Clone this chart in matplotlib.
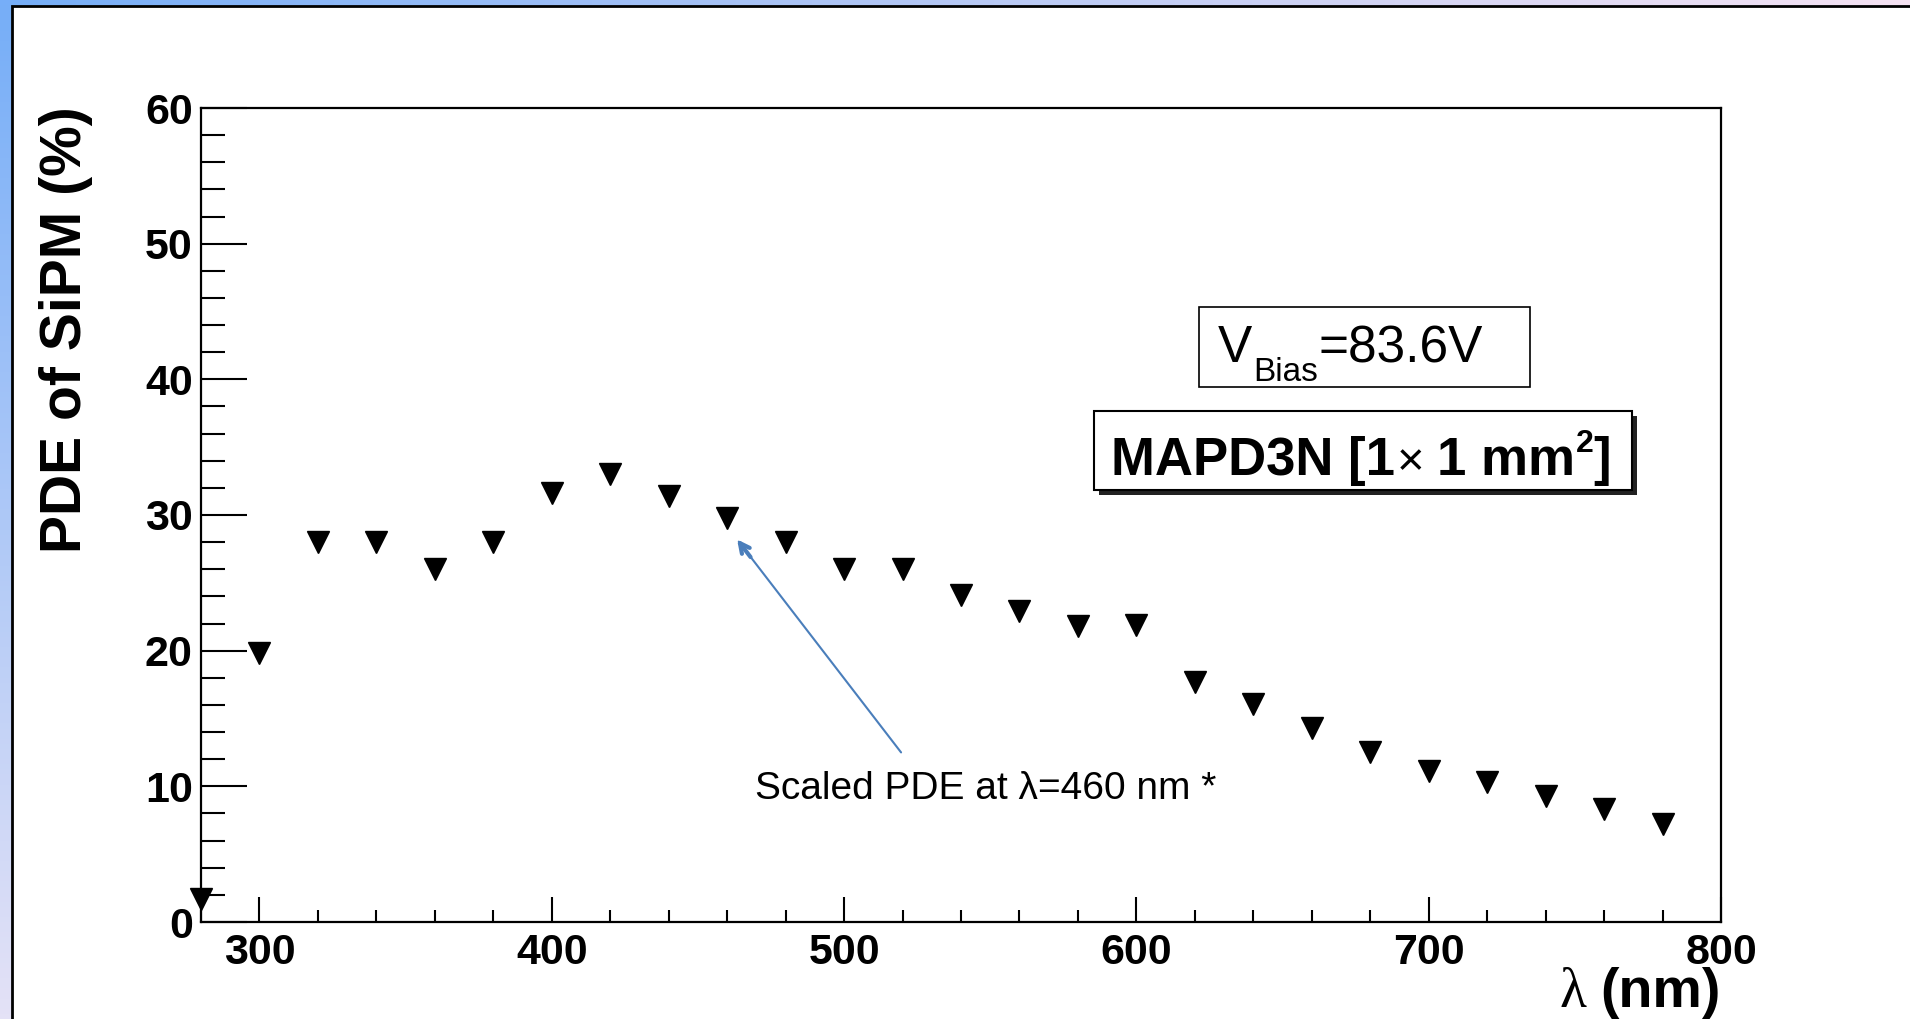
import numpy as np
import matplotlib
matplotlib.use('Agg')
import matplotlib.pyplot as plt
from matplotlib.patches import Rectangle
from matplotlib.ticker import MultipleLocator

plt.rcParams['font.family'] = ['Liberation Sans', 'DejaVu Sans']
plt.rcParams['mathtext.default'] = 'regular'

# wavelength (nm) and PDE (%)
wavelength = [280, 300, 320, 340, 360, 380, 400, 420, 440, 460, 480, 500, 520,
              540, 560, 580, 600, 620, 640, 660, 680, 700, 720, 740, 760, 780]
pde = [1.7, 19.8, 28.0, 28.0, 26.0, 28.0, 31.6, 33.0, 31.4, 29.8, 28.0, 26.0, 26.0,
       24.1, 22.9, 21.8, 21.9, 17.7, 16.1, 14.3, 12.5, 11.1, 10.3, 9.3, 8.3, 7.2]

x_ticks = [300, 400, 500, 600, 700, 800]
y_ticks = [0, 10, 20, 30, 40, 50, 60]

W, H = 1910, 1019
fig = plt.figure(figsize=(W / 100, H / 100), dpi=100)


def fx(px):
    return px / W


def fy(py):
    return 1 - py / H


# slide background (blue gradient border)
bg = fig.add_axes([0, 0, 1, 1], zorder=-10)
gx = np.linspace(0, 1, 200)[None, :, None]
gy = np.linspace(0, 1, 200)[:, None, None]
tl = np.array([118, 174, 248]) / 255
tr = np.array([245, 226, 242]) / 255
bl = np.array([228, 226, 246]) / 255
br = np.array([250, 245, 250]) / 255
grad = (tl * (1 - gx) * (1 - gy) + tr * gx * (1 - gy)
        + bl * (1 - gx) * gy + br * gx * gy)
bg.imshow(grad, aspect='auto', extent=[0, 1, 0, 1])
bg.axis('off')

# white canvas with black frame
fig.patches.append(Rectangle((fx(12), -0.05), 1.1, fy(6) + 0.05,
                             transform=fig.transFigure, facecolor='white',
                             edgecolor='black', linewidth=2.0, zorder=-5))

ax = fig.add_axes([fx(201), fy(922), fx(1721) - fx(201), fy(108) - fy(922)])
ax.set_facecolor('white')
ax.plot(wavelength, pde, linestyle='none', marker='v', color='black',
        markersize=16, clip_on=False)

ax.set_xlim(280, 800)
ax.set_ylim(0, 60)
ax.set_xticks(x_ticks)
ax.set_yticks(y_ticks)
ax.xaxis.set_minor_locator(MultipleLocator(20))
ax.yaxis.set_minor_locator(MultipleLocator(2))
ax.tick_params(axis='both', which='both', direction='in', width=1.5,
               colors='black', labelsize=31)
ax.tick_params(axis='x', which='major', length=18, pad=8)
ax.tick_params(axis='x', which='minor', length=9)
ax.tick_params(axis='y', which='major', length=33, pad=6)
ax.tick_params(axis='y', which='minor', length=17)
for lab in ax.get_xticklabels() + ax.get_yticklabels():
    lab.set_fontweight('bold')
for sp in ax.spines.values():
    sp.set_linewidth(1.6)

fig.text(fx(66), fy(330), 'PDE of SiPM (%)', rotation=90, fontsize=41,
         fontweight='bold', ha='center', va='center')

# text boxes
fig.patches.append(Rectangle((fx(1199), fy(387)), fx(1530) - fx(1199),
                             fy(307) - fy(387), transform=fig.transFigure,
                             facecolor='white', edgecolor='black',
                             linewidth=1.2, zorder=5))
fig.patches.append(Rectangle((fx(1099), fy(495)), fx(1637) - fx(1099),
                             fy(416) - fy(495), transform=fig.transFigure,
                             facecolor='#222222', edgecolor='none', zorder=5))
fig.patches.append(Rectangle((fx(1094), fy(490)), fx(1632) - fx(1094),
                             fy(411) - fy(490), transform=fig.transFigure,
                             facecolor='white', edgecolor='black',
                             linewidth=1.5, zorder=6))

t_nm = fig.text(fx(1721), fy(1007), '(nm)', fontsize=40, fontweight='bold',
                ha='right', va='baseline')
t_v = fig.text(fx(1218), fy(362), 'V', fontsize=37, va='baseline', zorder=7)
t_m = fig.text(fx(1111), fy(475), 'MAPD3N [1', fontsize=38, fontweight='bold',
               va='baseline', zorder=7)

fig.canvas.draw()
r = fig.canvas.get_renderer()

bb = t_nm.get_window_extent(r)
fig.text(fx(bb.x0 - 14), fy(1007), 'λ', fontsize=40, ha='right', va='baseline',
         family=['Liberation Serif', 'DejaVu Serif'])

bb = t_v.get_window_extent(r)
t_b = fig.text(fx(bb.x1 + 1), fy(381), 'Bias', fontsize=24, va='baseline', zorder=7)
bb = t_b.get_window_extent(r)
fig.text(fx(bb.x1), fy(362), '=83.6V', fontsize=37, va='baseline', zorder=7)

bb = t_m.get_window_extent(r)
t_x = fig.text(fx(bb.x1 + 2), fy(475), '×', fontsize=34, va='baseline', zorder=7)
bb = t_x.get_window_extent(r)
t_mm = fig.text(fx(bb.x1 + 12), fy(475), '1 mm', fontsize=38, fontweight='bold',
                va='baseline', zorder=7)
bb = t_mm.get_window_extent(r)
t_2 = fig.text(fx(bb.x1 + 1), fy(452), '2', fontsize=23, fontweight='bold',
               va='baseline', zorder=7)
bb = t_2.get_window_extent(r)
fig.text(fx(bb.x1), fy(475), ']', fontsize=38, fontweight='bold',
         va='baseline', zorder=7)

# annotation
ax.text(548.6, 9.8, 'Scaled PDE at λ=460 nm *', fontsize=28, ha='center',
        va='center', family=['Liberation Sans Narrow', 'Liberation Sans'])
ax.annotate('', xy=(463.4, 28.2), xytext=(519.5, 12.5),
            arrowprops=dict(arrowstyle='-', color='#4A7EBB', linewidth=1.5,
                            shrinkA=0, shrinkB=2))
ax.annotate('', xy=(463.4, 28.2), xytext=(468.0, 26.9),
            arrowprops=dict(arrowstyle='->,head_length=0.7,head_width=0.35',
                            color='#4A7EBB', linewidth=3.0,
                            shrinkA=0, shrinkB=0))

fig.savefig('out.png', dpi=100)
